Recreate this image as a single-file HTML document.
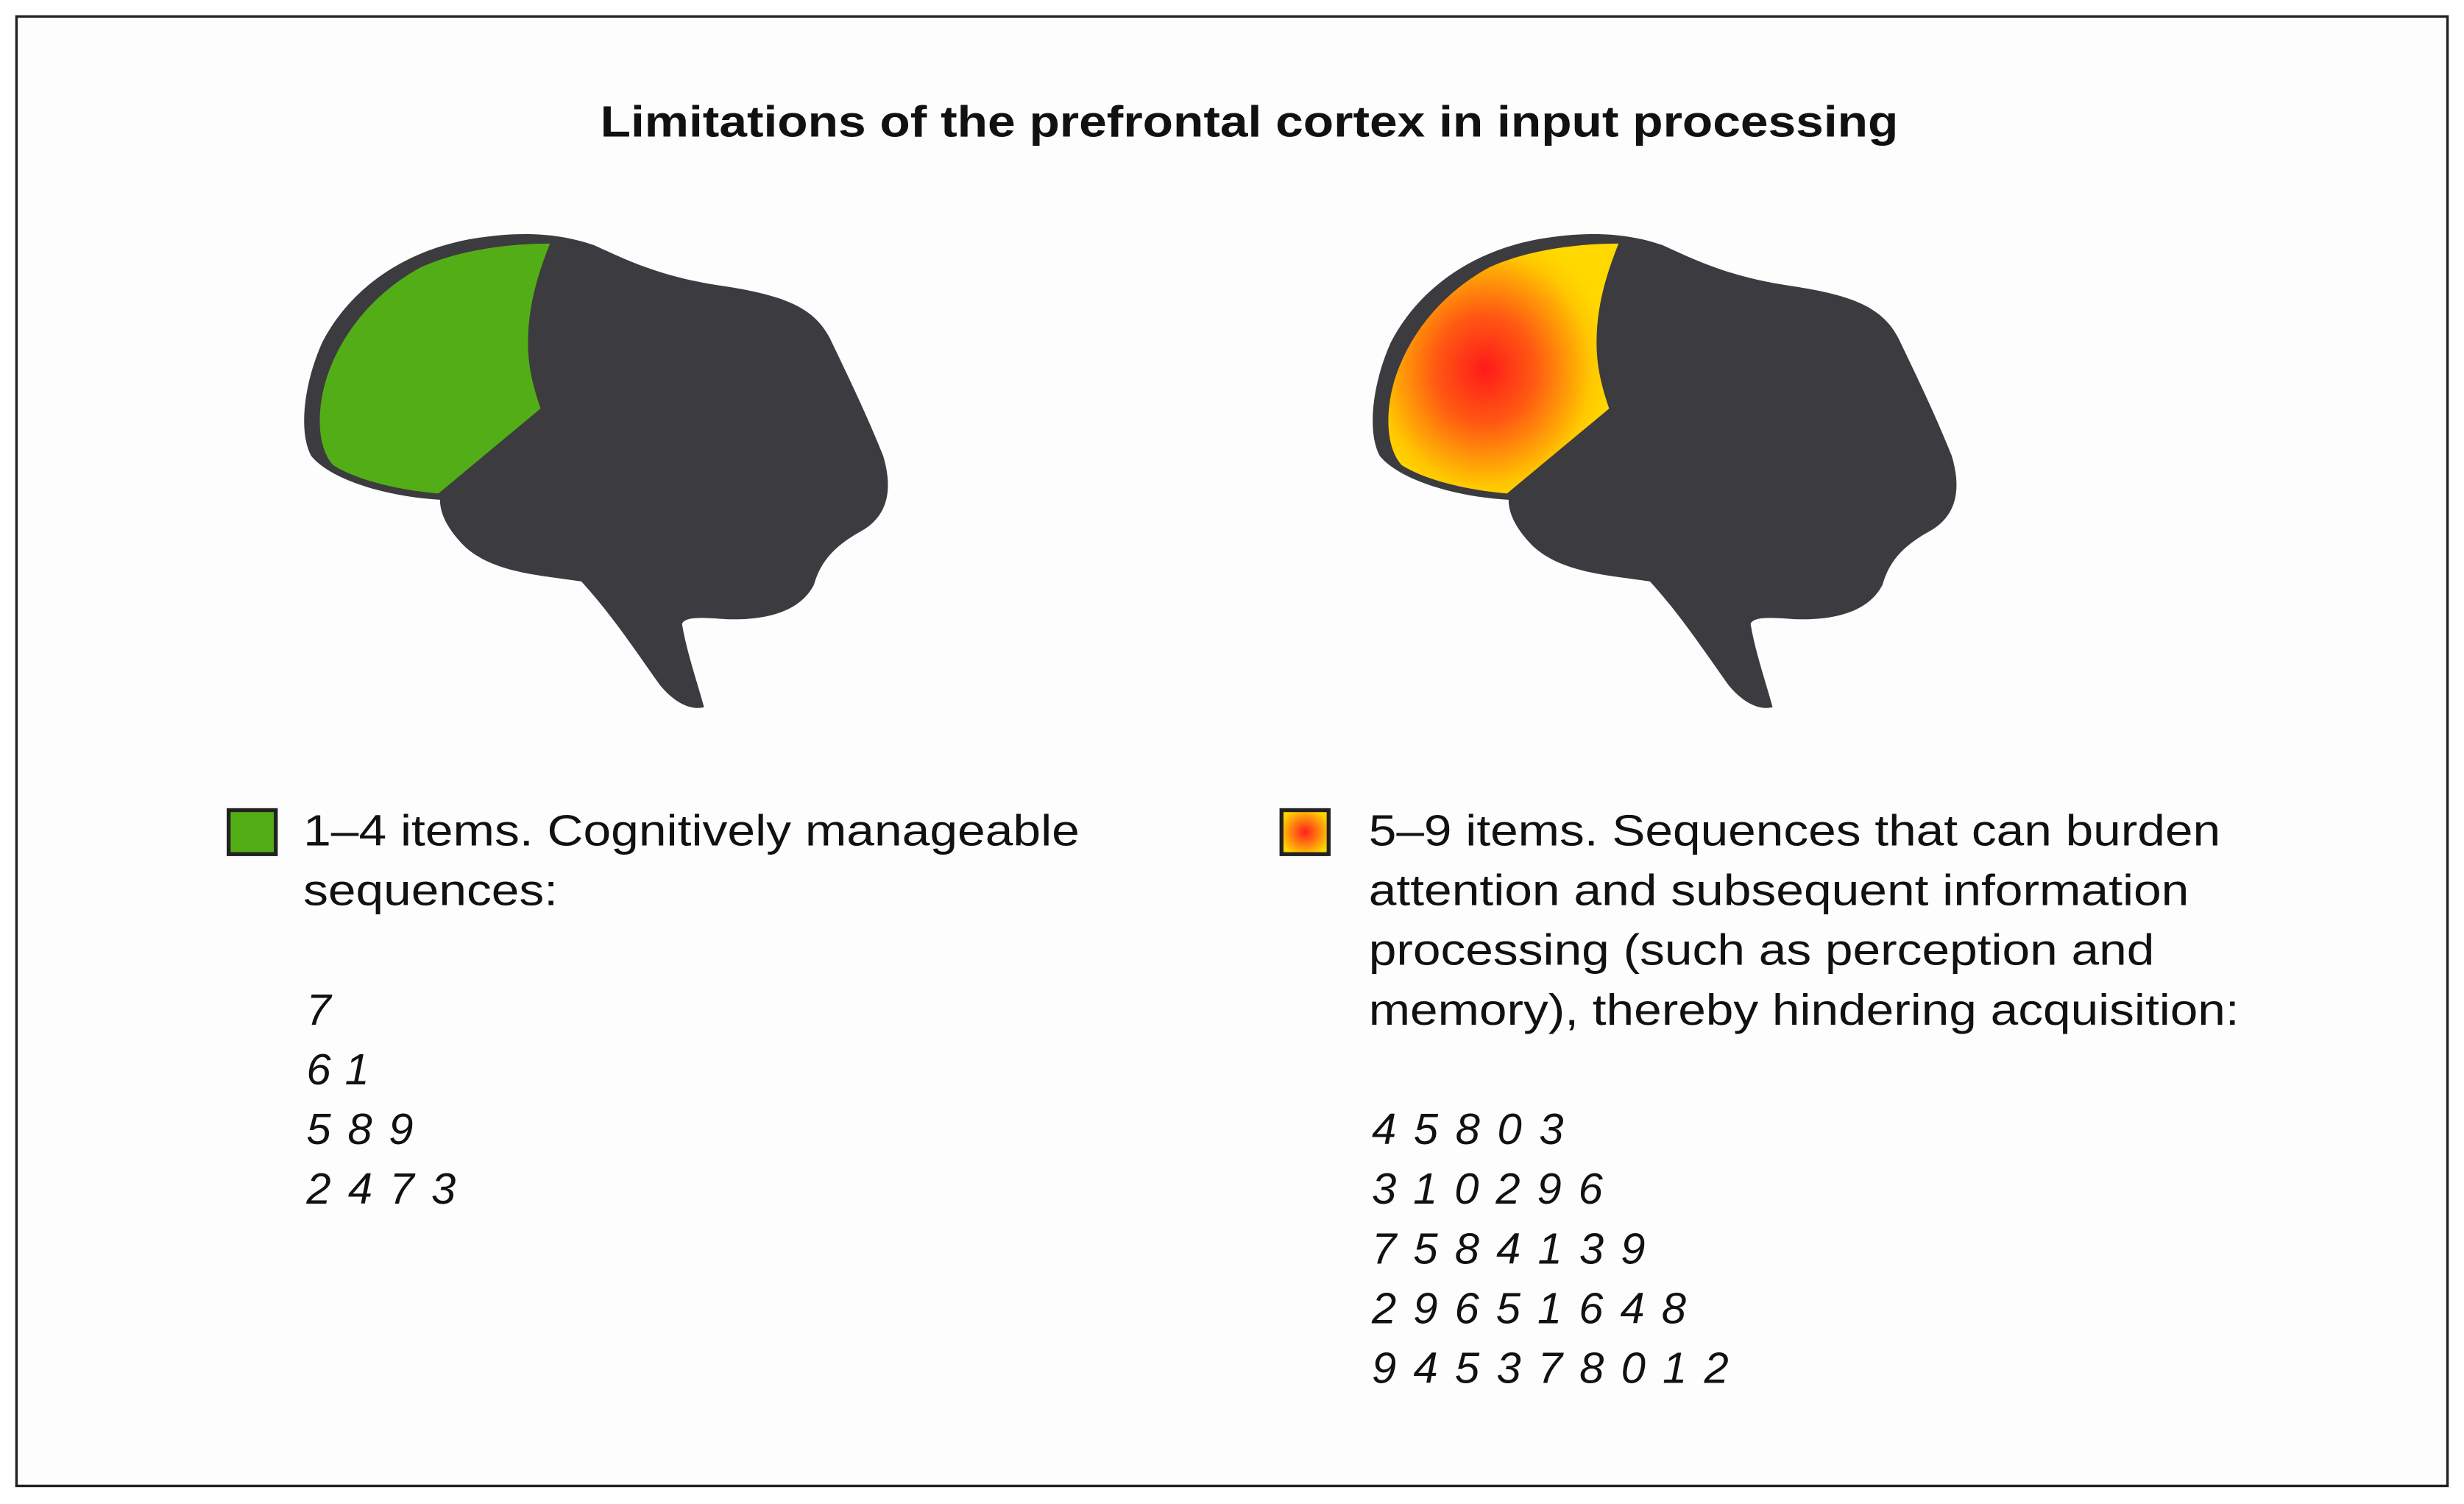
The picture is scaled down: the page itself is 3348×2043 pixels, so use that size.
<!DOCTYPE html>
<html><head><meta charset="utf-8"><style>
html,body{margin:0;padding:0;background:#fff;}
svg{display:block;}
text{font-family:"Liberation Sans",Arial,sans-serif;fill:#111;}
</style></head><body>
<svg width="3348" height="2043" viewBox="0 0 1568 957" preserveAspectRatio="none" xmlns="http://www.w3.org/2000/svg">
<defs>
<radialGradient id="hot" cx="0" cy="0" r="1" gradientUnits="userSpaceOnUse" gradientTransform="translate(945 235) scale(80 88)">
<stop offset="0" stop-color="#ff1a1a"/>
<stop offset="0.4" stop-color="#ff5a12"/>
<stop offset="0.85" stop-color="#ffc800"/>
<stop offset="1" stop-color="#ffd800"/>
</radialGradient>
<radialGradient id="hotsq" cx="0.5" cy="0.5" r="0.55">
<stop offset="0" stop-color="#ff2020"/>
<stop offset="0.5" stop-color="#ff7a10"/>
<stop offset="1" stop-color="#ffd400"/>
</radialGradient>
</defs>
<rect x="10.5" y="10.5" width="1547" height="935" fill="#fdfdfd" stroke="#222" stroke-width="1.6"/>
<text x="795" y="87" font-size="28" font-weight="bold" text-anchor="middle" textLength="826" lengthAdjust="spacingAndGlyphs">Limitations of the prefrontal cortex in input processing</text>

<!-- left brain -->
<path fill="#3c3b3f" d="M280,318 C245,316 210,305 198,290 C190,275 193,245 205,218 C222,185 255,160 300,152 C330,147 355,148 378,156 C400,166 420,176 460,182 C500,188 518,196 528,215 C540,240 552,265 562,290 C568,310 566,328 548,338 C530,348 522,358 518,372 C510,388 490,395 462,394 C448,393 436,392 434,397 C437,415 444,435 448,450 C440,452 430,448 420,436 C405,415 390,392 370,370 C345,366 315,365 296,348 C286,338 280,328 280,318 Z"/>
<path fill="#53ad17" d="M350,155 C342,175 336,195 336,218 C336,235 340,248 344,260 L279,314 C255,312 228,306 212,296 C202,285 201,262 208,240 C218,210 240,185 268,170 C290,160 320,155 350,155 Z"/>

<!-- right brain -->
<g transform="translate(680 0)">
<path fill="#3c3b3f" d="M280,318 C245,316 210,305 198,290 C190,275 193,245 205,218 C222,185 255,160 300,152 C330,147 355,148 378,156 C400,166 420,176 460,182 C500,188 518,196 528,215 C540,240 552,265 562,290 C568,310 566,328 548,338 C530,348 522,358 518,372 C510,388 490,395 462,394 C448,393 436,392 434,397 C437,415 444,435 448,450 C440,452 430,448 420,436 C405,415 390,392 370,370 C345,366 315,365 296,348 C286,338 280,328 280,318 Z"/>
</g>
<path fill="url(#hot)" d="M1030,155 C1022,175 1016,195 1016,218 C1016,235 1020,248 1024,260 L959,314 C935,312 908,306 892,296 C882,285 881,262 888,240 C898,210 920,185 948,170 C970,160 1000,155 1030,155 Z"/>

<!-- legend left -->
<rect x="145.5" y="515.5" width="30" height="28" fill="#53ad17" stroke="#222" stroke-width="2.5"/>
<g font-size="28">
<text x="193" y="538" textLength="494" lengthAdjust="spacingAndGlyphs">1–4 items. Cognitively manageable</text>
<text x="193" y="576" textLength="162" lengthAdjust="spacingAndGlyphs">sequences:</text>
<g font-style="italic">
<text x="195" y="652">7</text>
<text x="195" y="690" textLength="40" lengthAdjust="spacing">6 1</text>
<text x="195" y="728" textLength="68" lengthAdjust="spacing">5 8 9</text>
<text x="195" y="766" textLength="95" lengthAdjust="spacing">2 4 7 3</text>
</g>
</g>

<!-- legend right -->
<rect x="815.5" y="515.5" width="30" height="28" fill="url(#hotsq)" stroke="#222" stroke-width="2.5"/>
<g font-size="28">
<text x="871" y="538" textLength="542" lengthAdjust="spacingAndGlyphs">5–9 items. Sequences that can burden</text>
<text x="871" y="576" textLength="522" lengthAdjust="spacingAndGlyphs">attention and subsequent information</text>
<text x="871" y="614" textLength="500" lengthAdjust="spacingAndGlyphs">processing (such as perception and</text>
<text x="871" y="652" textLength="554" lengthAdjust="spacingAndGlyphs">memory), thereby hindering acquisition:</text>
<g font-style="italic">
<text x="873" y="728" textLength="122" lengthAdjust="spacing">4 5 8 0 3</text>
<text x="873" y="766" textLength="147" lengthAdjust="spacing">3 1 0 2 9 6</text>
<text x="873" y="804" textLength="174" lengthAdjust="spacing">7 5 8 4 1 3 9</text>
<text x="873" y="842" textLength="200" lengthAdjust="spacing">2 9 6 5 1 6 4 8</text>
<text x="873" y="880" textLength="227" lengthAdjust="spacing">9 4 5 3 7 8 0 1 2</text>
</g>
</g>
</svg>
</body></html>
